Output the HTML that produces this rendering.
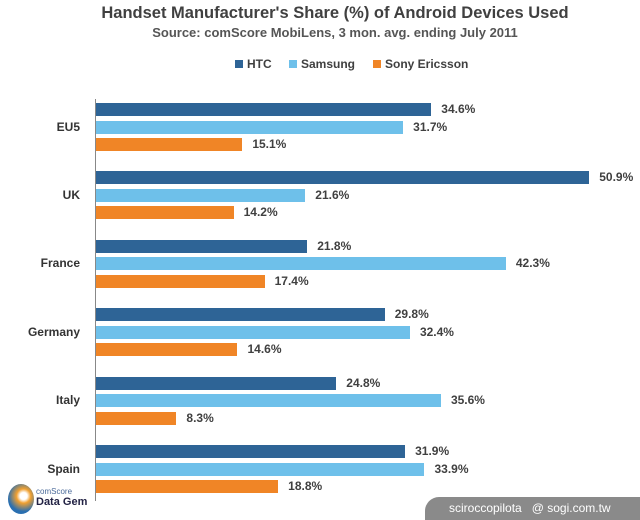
<!DOCTYPE html><html><head><style>
body{margin:0;width:640px;height:520px;background:#fff;overflow:hidden;font-family:"Liberation Sans",sans-serif;position:relative}
.t{position:absolute;left:0;width:100%;text-align:center;color:#404040}
.b{position:absolute;left:96px;height:13px}
.v{position:absolute;font-size:12px;font-weight:bold;color:#404040}
.c{position:absolute;width:80px;text-align:right;font-size:12px;font-weight:bold;color:#333}
.lg{position:absolute;top:57px;font-size:12px;font-weight:bold;color:#404040}
.lg i{display:inline-block;width:8px;height:8px;margin-right:4px}
</style></head><body>
<div class="t" style="top:4px;left:15px;font-size:16.5px;font-weight:bold">Handset Manufacturer's Share (%) of Android Devices Used</div>
<div class="t" style="top:25px;left:15px;font-size:13px;font-weight:bold;color:#555">Source: comScore MobiLens, 3 mon. avg. ending July 2011</div>
<div class="lg" style="left:235px"><i style="background:#2e6496"></i>HTC</div>
<div class="lg" style="left:289px"><i style="background:#6ec0ea"></i>Samsung</div>
<div class="lg" style="left:373px"><i style="background:#f08526"></i>Sony Ericsson</div>
<div style="position:absolute;left:95px;top:99px;width:1px;height:402px;background:#888"></div>
<div id="g"></div>
<div style="position:absolute;left:8px;top:484px;width:26px;height:30px;border-radius:50%;background:radial-gradient(circle at 60% 40%,#fff 15%,#f0a030 30%,#2a6fb0 65%)"></div>
<div style="position:absolute;left:36px;top:487px;font-size:8px;color:#4a6a9a">comScore</div>
<div style="position:absolute;left:36px;top:496px;font-size:11px;font-weight:bold;color:#224">Data Gem</div>
<div style="position:absolute;left:425px;top:497px;width:215px;height:23px;background:#8a8a8a;border-top-left-radius:14px;color:#fff;font-size:12px;line-height:23px;padding-left:24px;box-sizing:border-box">sciroccopilota&nbsp;&nbsp; @ sogi.com.tw</div>
<script>
var d=[["EU5",34.6,31.7,15.1],["UK",50.9,21.6,14.2],["France",21.8,42.3,17.4],["Germany",29.8,32.4,14.6],["Italy",24.8,35.6,8.3],["Spain",31.9,33.9,18.8]];
var col=["#2e6496","#6ec0ea","#f08526"],h="";
d.forEach(function(r,i){var y0=103+i*68.4;
h+='<div class="c" style="left:0;top:'+(y0+17.5-1)+'px">'+r[0]+'</div>';
for(var k=0;k<3;k++){var y=y0+k*17.5,w=r[k+1]*9.69;
h+='<div class="b" style="top:'+y+'px;width:'+w+'px;background:'+col[k]+'"></div>';
h+='<div class="v" style="top:'+(y-1)+'px;left:'+(96+w+10)+'px">'+r[k+1].toFixed(1)+'%</div>';}});
document.getElementById("g").innerHTML=h;
</script>
</body></html>
